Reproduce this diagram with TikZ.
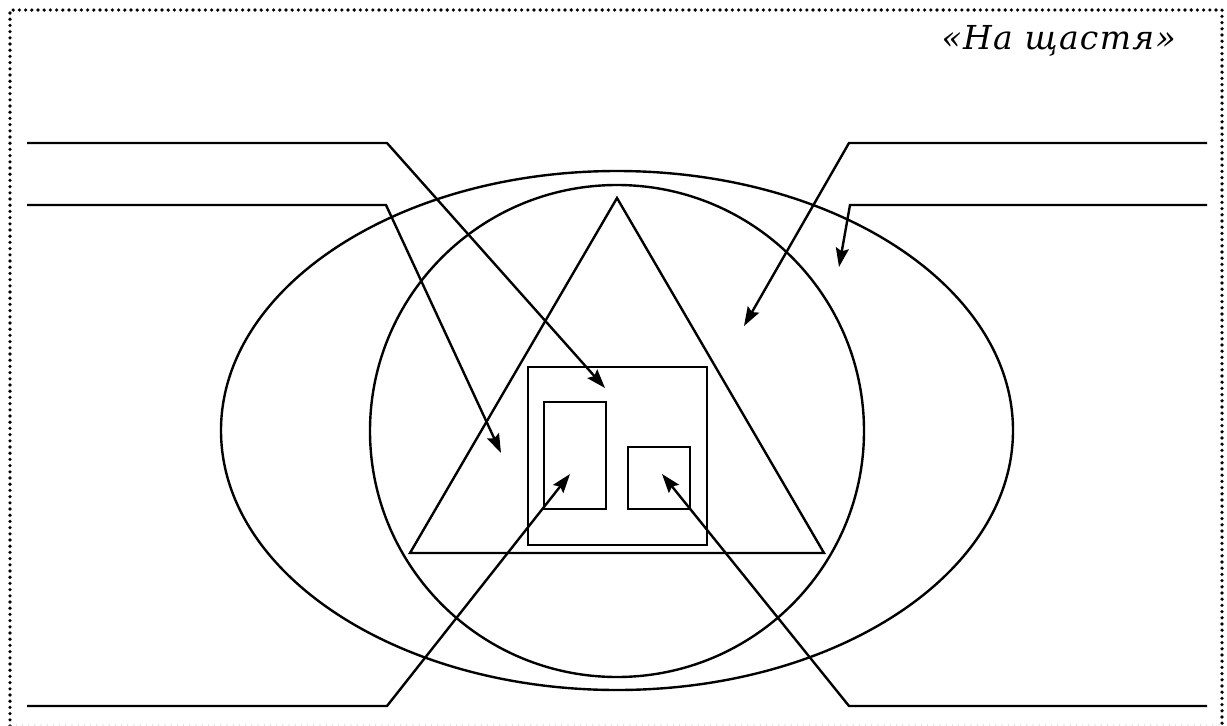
\documentclass[tikz,border=0pt]{standalone}
\usepackage{fontspec}
\newfontfamily\titlefont[LetterSpace=4]{DejaVu Serif}
\usetikzlibrary{arrows.meta,shapes.geometric}
\tikzset{
  shape line/.style={line width=2.4pt},
  callout/.style={line width=2.4pt,-{Stealth[length=19pt,width=13pt,inset=3pt]}},
  frame line/.style={line width=3.6pt,dash pattern=on 0pt off 6.2pt,line cap=round}
}
\begin{document}
\begin{tikzpicture}[x=1pt,y=-1pt]
\useasboundingbox (0,0) rectangle (1227,726);
\draw[frame line] (10,726) -- (10,10) -- (1222,10) -- (1222,726);
\draw[line width=1.2pt,dash pattern=on 0pt off 6.2pt,line cap=round,gray!50] (10,725) -- (1222,725);
\node[anchor=base east,inner sep=0pt] (title) at (1176,49) {\titlefont\itshape\fontsize{33}{38}\selectfont «На щастя»};
% shapes
\draw[shape line] (617,430.5) ellipse [x radius=396, y radius=259.5];
\coordinate (ellc) at (617,430.5);
\draw[shape line] (617,431) ellipse [x radius=247, y radius=246];
\coordinate (apex) at (617,198);
\coordinate (bl) at (410,553);
\coordinate (br) at (824,553);
\draw[shape line,line join=miter] (apex) -- (br) -- (bl) -- cycle;
\node[draw,shape line,minimum width=179pt,minimum height=178pt,inner sep=0pt] (house) at (617.5,456) {};
\node[draw,shape line,minimum width=62pt,minimum height=107pt,inner sep=0pt] (door) at (575,455.5) {};
\node[draw,shape line,minimum width=62pt,minimum height=62pt,inner sep=0pt] (window) at (659,478) {};
% arrow targets
\coordinate (t1) at (605,388);
\coordinate (t2) at (501,453);
\coordinate (t3) at (744,326);
\coordinate (t4) at (839,267);
\coordinate (t5) at (570,474);
\coordinate (t6) at (662,474);
% callout starts
\coordinate (s1) at (27,143);  \coordinate (k1) at (387,143);
\coordinate (s2) at (27,205);  \coordinate (k2) at (386,205);
\coordinate (s3) at (1207,143); \coordinate (k3) at (849,143);
\coordinate (s4) at (1207,205); \coordinate (k4) at (850,205);
\coordinate (s5) at (27,706);  \coordinate (k5) at (387,706);
\coordinate (s6) at (1207,706); \coordinate (k6) at (849,706);
\draw[callout] (s1) -- (k1) -- (t1);
\draw[callout] (s2) -- (k2) -- (t2);
\draw[callout] (s3) -- (k3) -- (t3);
\draw[callout] (s4) -- (k4) -- (t4);
\draw[callout] (s5) -- (k5) -- (t5);
\draw[callout] (s6) -- (k6) -- (t6);
\end{tikzpicture}
\end{document}
